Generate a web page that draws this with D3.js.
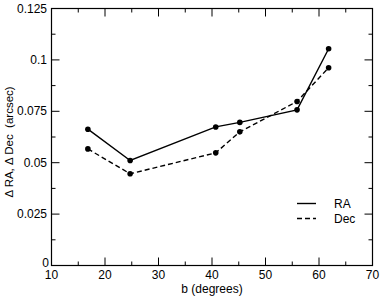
<!DOCTYPE html>
<html><head><meta charset="utf-8">
<script src="https://cdn.jsdelivr.net/npm/d3@7"></script>
<style>body{margin:0;background:#fff}svg{display:block;font-family:"Liberation Sans",Arial,sans-serif}</style>
</head><body><svg id="c" width="382" height="296"></svg>
<script>
const bDeg = [16.8, 24.7, 40.7, 45.2, 55.9, 61.8];
const raVals = [0.0663, 0.0511, 0.0674, 0.0696, 0.0757, 0.1054];
const decVals = [0.0567, 0.0446, 0.0548, 0.0650, 0.0798, 0.0962];
const xTicks = [10, 20, 30, 40, 50, 60, 70];
const yTicks = [0, 0.025, 0.05, 0.075, 0.1, 0.125];
const seriesNames = ["RA", "Dec"];

const svg = d3.select("#c");
const L = 51.5, R = 372.5, T = 8.5, B = 265.5;
const x = d3.scaleLinear().domain([10, 70]).range([L, R]);
const y = d3.scaleLinear().domain([0, 0.125]).range([B, T]);

svg.append("rect").attr("x", L).attr("y", T).attr("width", R - L).attr("height", B - T)
  .attr("fill", "none").attr("stroke", "#000").attr("stroke-width", 1.2);

const xMinor = d3.range(15, 70, 10);
const yMinor = d3.range(0.0125, 0.125, 0.025);
const g = svg.append("g").attr("stroke", "#000").attr("stroke-width", 1);
function tk(list, len, vertical) {
  list.forEach(v => {
    if (vertical) {
      g.append("line").attr("x1", x(v)).attr("x2", x(v)).attr("y1", B).attr("y2", B - len);
      g.append("line").attr("x1", x(v)).attr("x2", x(v)).attr("y1", T).attr("y2", T + len);
    } else {
      g.append("line").attr("y1", y(v)).attr("y2", y(v)).attr("x1", L).attr("x2", L + len);
      g.append("line").attr("y1", y(v)).attr("y2", y(v)).attr("x1", R).attr("x2", R - len);
    }
  });
}
tk(xTicks, 8, true); tk(xMinor, 4, true);
tk(yTicks, 8, false); tk(yMinor, 4, false);

const fs = 12;
xTicks.forEach(v => {
  svg.append("text").attr("x", x(v)).attr("y", 279).attr("text-anchor", "middle")
    .attr("font-size", fs).text(v);
});
yTicks.forEach(v => {
  svg.append("text").attr("x", v === 0 ? 49 : 47).attr("y", v === 0 ? y(v) + 1 : y(v) + 4)
    .attr("text-anchor", "end").attr("font-size", fs).text(d3.format("")(v));
});
svg.append("text").attr("x", (L + R) / 2).attr("y", 293).attr("text-anchor", "middle")
  .attr("font-size", fs).text("b (degrees)");
svg.append("text").attr("transform", `translate(13,142) rotate(-90)`)
  .attr("text-anchor", "middle").attr("font-size", 11.5).attr("xml:space","preserve").text("Δ RA, Δ Dec  (arcsec)");

const line = d3.line().x(d => x(d[0])).y(d => y(d[1]));
const series = [
  {name: seriesNames[0], vals: raVals, dash: null},
  {name: seriesNames[1], vals: decVals, dash: "5,3"}
];
series.forEach((s, i) => {
  const pts = bDeg.map((b, j) => [b, s.vals[j]]);
  svg.append("path").attr("d", line(pts)).attr("fill", "none").attr("stroke", "#000")
    .attr("stroke-width", 1.4).attr("stroke-dasharray", s.dash);
  svg.selectAll(null).data(pts).enter().append("circle")
    .attr("cx", d => x(d[0])).attr("cy", d => y(d[1])).attr("r", 2.8).attr("fill", "#000");
  const ly = 203.5 + i * 15;
  svg.append("line").attr("x1", 297).attr("x2", 316).attr("y1", ly).attr("y2", ly)
    .attr("stroke", "#000").attr("stroke-width", 1.4).attr("stroke-dasharray", s.dash);
  svg.append("text").attr("x", 334).attr("y", ly + 4.5).attr("font-size", fs).text(s.name);
});
</script></body></html>
